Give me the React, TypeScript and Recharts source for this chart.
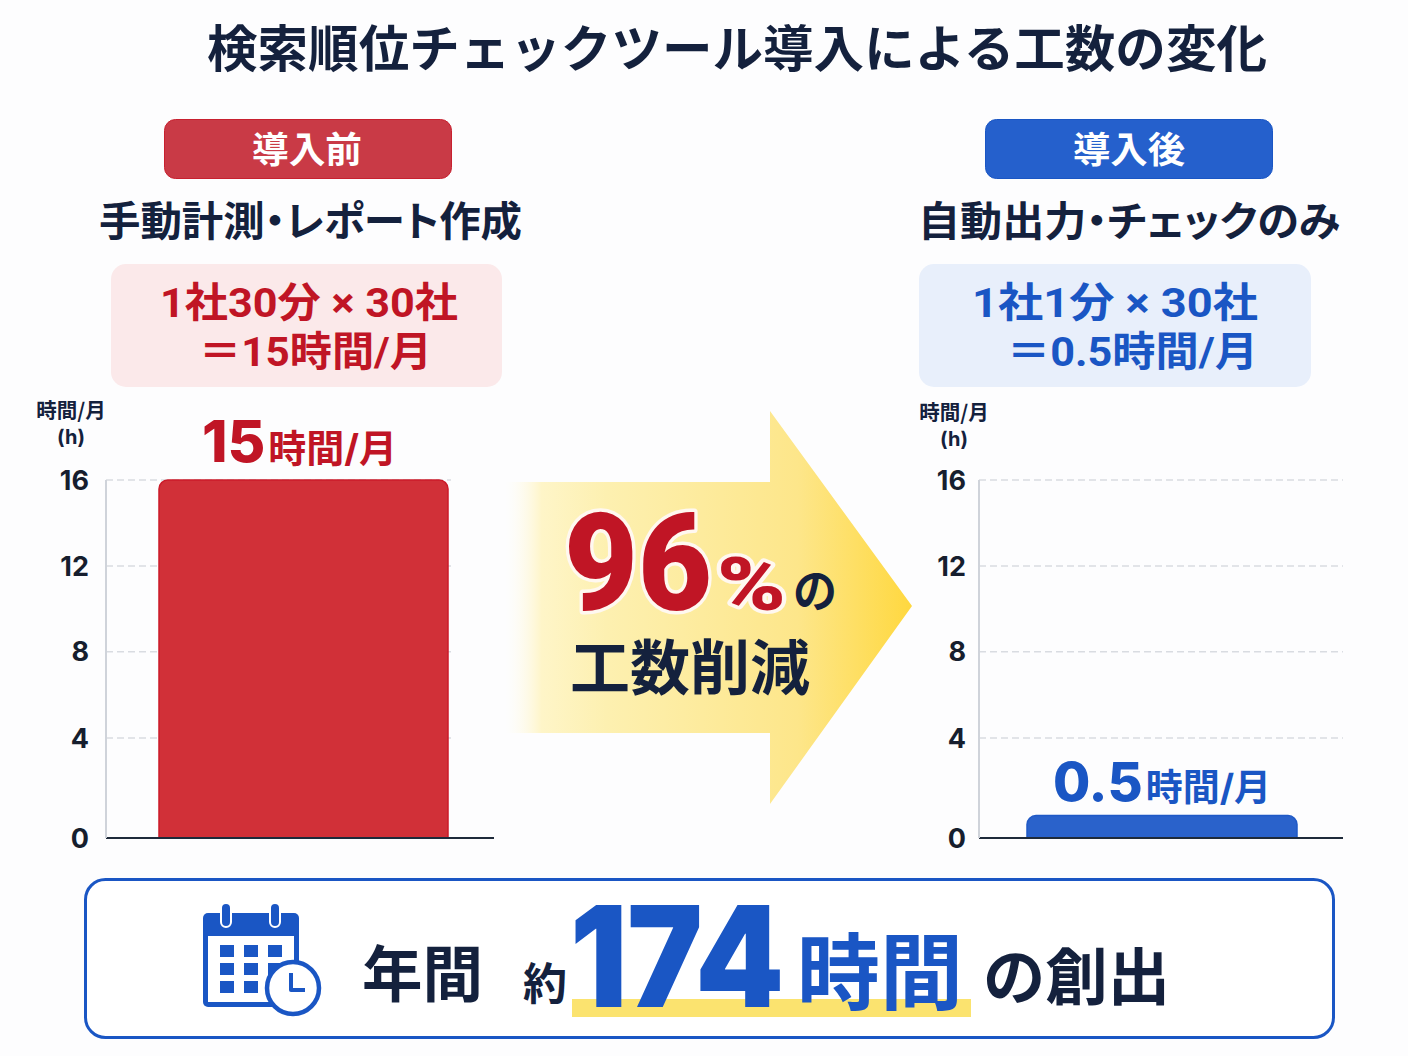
import { BarChart, Bar, XAxis, YAxis, CartesianGrid, LabelList } from "recharts";

const TITLE = "検索順位チェックツール導入による工数の変化";
const axisTicks = [0, 4, 8, 12, 16];
const unitLines = ["時間/月", "(h)"];
const valueUnit = "時間/月";

// Bar heights as drawn in the picture: they reach about 16 and 0.9, though the labels say 15 and 0.5.
const beforeCategories = ["導入前"];
const beforeHours = [16];
const beforeLabels = ["15"];
const afterCategories = ["導入後"];
const afterHours = [0.9];
const afterLabels = ["0.5"];

// The axis in the picture is not evenly spaced: the 0-4 step is taller than the others.
const scaleKnots = [0, 4, 8, 12, 16];
const scaleFractions = [0, 0.279, 0.52, 0.76, 1];

const JP = '"Noto Sans CJK JP", sans-serif';
const LATIN = 'Inter, "Noto Sans CJK JP", sans-serif';
const ROUND = 'Roboto, "Noto Sans CJK JP", sans-serif';
const NAVY = "#14213d";
const RED = "#c01525";
const BLUE = "#1a56c4";

function makeAxisScale(dom: number[] = [0, 16], rng: number[] = [1, 0]) {
  const scale: any = (v: number) => {
    let t = scaleFractions[scaleFractions.length - 1];
    for (let i = 1; i < scaleKnots.length; i++) {
      if (v <= scaleKnots[i]) {
        const k = (v - scaleKnots[i - 1]) / (scaleKnots[i] - scaleKnots[i - 1]);
        t = scaleFractions[i - 1] + k * (scaleFractions[i] - scaleFractions[i - 1]);
        break;
      }
    }
    return rng[0] + t * (rng[1] - rng[0]);
  };
  scale.domain = (d?: number[]) => (d ? makeAxisScale(d, rng) : dom);
  scale.range = (r?: number[]) => (r ? makeAxisScale(dom, r) : rng);
  scale.copy = () => makeAxisScale(dom, rng);
  scale.ticks = () => axisTicks;
  return scale;
}

function Txt({ x, y, size, w, fill = NAVY, weight = 700, font = JP, halo, palt, children }: any) {
  return (
    <text
      x={x}
      y={y}
      fontSize={size}
      fontWeight={weight}
      fontFamily={font}
      fill={fill}
      textLength={w}
      lengthAdjust={w ? "spacingAndGlyphs" : undefined}
      stroke={halo}
      strokeWidth={halo ? 7 : undefined}
      strokeLinejoin="round"
      paintOrder="stroke"
      style={palt ? { fontFeatureSettings: '"palt"' } : undefined}
    >
      {children}
    </text>
  );
}

function CalendarIcon() {
  const cols = [220, 244, 268];
  const rows = [945, 963, 981];
  return (
    <g>
      <rect x={203} y={913} width={96} height={94} rx={5} fill={BLUE} />
      <rect x={208} y={936} width={86} height={66} fill="#fff" />
      {cols.map((cx) =>
        rows.map((cy) => <rect key={`${cx}-${cy}`} x={cx} y={cy} width={14} height={12} fill={BLUE} />)
      )}
      <rect x={221} y={903} width={10} height={24} rx={5} fill={BLUE} stroke="#fff" strokeWidth={2} />
      <rect x={270} y={903} width={10} height={24} rx={5} fill={BLUE} stroke="#fff" strokeWidth={2} />
      <circle cx={293} cy={988} r={26} fill="#fff" stroke={BLUE} strokeWidth={4.5} />
      <path d="M291 973 V990 H305" fill="none" stroke={BLUE} strokeWidth={4} strokeLinejoin="round" />
    </g>
  );
}

function Annotations() {
  return (
    <svg width={1408} height={1056} style={{ position: "absolute", left: 0, top: 0 }}>
      <defs>
        <linearGradient id="arrowFill" x1="0" y1="0" x2="1" y2="0">
          <stop offset="0%" stopColor="#fffdf2" stopOpacity={0} />
          <stop offset="9%" stopColor="#fef5c8" />
          <stop offset="25%" stopColor="#fdf0b0" />
          <stop offset="72%" stopColor="#fde68a" />
          <stop offset="100%" stopColor="#ffd83f" />
        </linearGradient>
      </defs>

      <Txt x={207} y={67} size={50} w={1060}>{TITLE}</Txt>

      <rect x={164.5} y={119.5} width={287} height={59} rx={11} fill="#c93a46" stroke="#c8202f" />
      <Txt x={252} y={163} size={36} w={110} fill="#fff">導入前</Txt>
      <rect x={985.5} y={119.5} width={287} height={59} rx={11} fill="#2560cc" stroke={BLUE} />
      <Txt x={1073} y={163} size={36} w={112} fill="#fff">導入後</Txt>

      <Txt x={99} y={236} size={41} w={423} palt>手動計測・レポート作成</Txt>
      <Txt x={918} y={236} size={41} w={422} palt>自動出力・チェックのみ</Txt>

      <rect x={111} y={264} width={391} height={123} rx={15} fill="#fbe9ea" />
      <Txt x={160} y={317} size={41} w={298} fill={RED} font={ROUND}>1社30分 × 30社</Txt>
      <Txt x={199} y={366} size={41} w={233} fill={RED} font={ROUND}>＝15時間/月</Txt>
      <rect x={919} y={264} width={392} height={123} rx={15} fill="#e8effb" />
      <Txt x={972} y={317} size={41} w={286} fill={BLUE} font={ROUND}>1社1分 × 30社</Txt>
      <Txt x={1007} y={366} size={41} w={251} fill={BLUE} font={ROUND}>＝0.5時間/月</Txt>

      <g textAnchor="middle">
        <Txt x={71} y={418} size={20.5}>{unitLines[0]}</Txt>
        <Txt x={71} y={444} size={20} font={LATIN}>{unitLines[1]}</Txt>
        <Txt x={954} y={420} size={20.5}>{unitLines[0]}</Txt>
        <Txt x={954} y={446} size={20} font={LATIN}>{unitLines[1]}</Txt>
      </g>

      <polygon points="505,482 770,482 770,411 912,606 770,804 770,733 505,733" fill="url(#arrowFill)" />
      <Txt x={564} y={610} size={136} w={148} fill={RED} weight={900} font={ROUND} halo="#fff8f0">96</Txt>
      <Txt x={717} y={610} size={74} w={69} fill={RED} weight={900} font={ROUND} halo="#fff8f0">%</Txt>
      <Txt x={793} y={607} size={46} w={44}>の</Txt>
      <Txt x={570} y={690} size={60} w={240}>工数削減</Txt>

      <rect x={85.5} y={879.5} width={1248} height={158} rx={20} fill="#fff" stroke={BLUE} strokeWidth={3} />
      <CalendarIcon />
      <Txt x={362} y={997} size={61} w={121}>年間</Txt>
      <Txt x={523} y={1000} size={44} w={44}>約</Txt>
      <rect x={572} y={999} width={399} height={18} fill="#fbe36f" />
      <Txt x={570} y={1007} size={140} w={214} fill={BLUE} font={LATIN} weight={900}>174</Txt>
      <Txt x={797} y={1003} size={83} w={166} fill={BLUE}>時間</Txt>
      <Txt x={983} y={1000} size={62} w={187}>の創出</Txt>
    </svg>
  );
}

function ValueLabel({ x, y, width, value, color, numSize, unitSize, shift, rise }: any) {
  return (
    <text
      x={x + width / 2 + shift}
      y={y - rise}
      textAnchor="middle"
      fill={color}
      fontFamily={LATIN}
      fontWeight={800}
    >
      <tspan fontSize={numSize}>{value}</tspan>
      <tspan fontSize={unitSize} dx={3} fontWeight={700}>{valueUnit}</tspan>
    </text>
  );
}

function HoursChart({ data, left, chartWidth, plotRight, padLeft, barSize, fill, edge, tickOffset, gridLength, label }: any) {
  return (
    <div style={{ position: "absolute", left, top: 400 }}>
      <BarChart
        width={chartWidth}
        height={458}
        data={data}
        margin={{ top: 80, right: plotRight, bottom: 18, left: 0 }}
      >
        <CartesianGrid
          vertical={false}
          horizontal={(p: any) => (
            <line
              key={p.key ?? p.index}
              x1={p.x1}
              x2={p.x1 + gridLength}
              y1={p.y1}
              y2={p.y2}
              stroke="#d9dce1"
              strokeWidth={1.5}
              strokeDasharray="7 4"
            />
          )}
          horizontalValues={[4, 8, 12, 16]}
        />
        <XAxis
          dataKey="name"
          tick={false}
          tickLine={false}
          height={2}
          padding={{ left: padLeft, right: 0 }}
          axisLine={{ stroke: "#1e2a3a", strokeWidth: 2 }}
        />
        <YAxis
          width={106}
          type="number"
          scale={makeAxisScale()}
          domain={[0, 16]}
          ticks={axisTicks}
          interval={0}
          tickLine={false}
          tickSize={0}
          tickMargin={tickOffset}
          axisLine={{ stroke: "#cfd3da", strokeWidth: 2 }}
          tick={{ fill: "#161e2e", fontSize: 27, fontWeight: 700, fontFamily: LATIN }}
        />
        <Bar
          dataKey="hours"
          barSize={barSize}
          fill={fill}
          stroke={edge}
          strokeWidth={1.5}
          radius={[9, 9, 0, 0]}
          isAnimationActive={false}
        >
          <LabelList dataKey="label" content={(p: any) => <ValueLabel {...p} {...label} />} />
        </Bar>
      </BarChart>
    </div>
  );
}

const beforeData = beforeCategories.map((name, i) => ({ name, hours: beforeHours[i], label: beforeLabels[i] }));
const afterData = afterCategories.map((name, i) => ({ name, hours: afterHours[i], label: afterLabels[i] }));

export default function App() {
  return (
    <div style={{ position: "absolute", left: 0, top: 0, width: 1408, height: 1056, background: "#fdfdfe", overflow: "hidden" }}>
      <Annotations />
      <HoursChart
        data={beforeData}
        left={0}
        chartWidth={500}
        plotRight={6}
        padLeft={7}
        barSize={289}
        fill="#d13038"
        edge="#cc1a28"
        tickOffset={17}
        gridLength={345}
        label={{ color: RED, numSize: 58, unitSize: 38, shift: -4, rise: 18 }}
      />
      <HoursChart
        data={afterData}
        left={873}
        chartWidth={480}
        plotRight={10}
        padLeft={2}
        barSize={270}
        fill="#2a62cb"
        edge="#1f59c6"
        tickOffset={13}
        gridLength={364}
        label={{ color: BLUE, numSize: 54, unitSize: 37, shift: 0, rise: 15 }}
      />
    </div>
  );
}
